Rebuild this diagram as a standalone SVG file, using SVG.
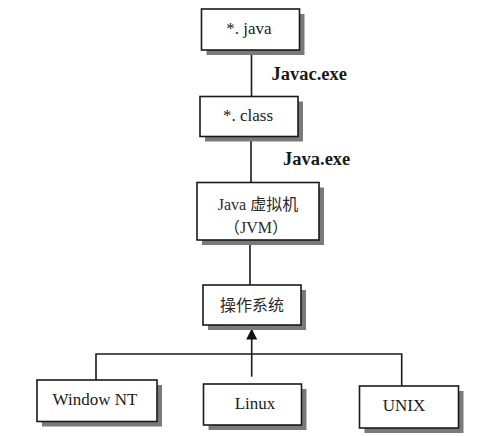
<svg xmlns="http://www.w3.org/2000/svg" width="494" height="436" viewBox="0 0 494 436">
<defs>
<style>
.box{fill:#fff;stroke:#1a1a1a;stroke-width:1.6}
.sh{fill:#7a7a7a;stroke:none}
.t{font-family:"Liberation Serif",serif;font-size:17px;fill:#1a1a1a;text-anchor:middle}
.cj{font-family:"Liberation Serif","Noto Sans CJK SC",serif;font-size:16px;fill:#2a2a2a;text-anchor:middle}
.lbl{font-family:"Liberation Serif",serif;font-size:18.5px;font-weight:bold;fill:#1a1a1a}
.ln{stroke:#1a1a1a;stroke-width:1.6;fill:none}
</style>
<marker id="ah" viewBox="0 0 10 10" refX="10" refY="5" markerWidth="11" markerHeight="12" markerUnits="userSpaceOnUse" orient="auto">
<path d="M0,0 L10,5 L0,10 Z" fill="#111"/>
</marker>
</defs>
<rect width="494" height="436" fill="#fff"/>
<g id="connectors">
<line class="ln" x1="251.5" y1="50" x2="251.5" y2="96.5"/>
<line class="ln" x1="251" y1="136.5" x2="251" y2="182.5"/>
<line class="ln" x1="250" y1="240" x2="250" y2="285"/>
<line class="ln" x1="251.7" y1="376.7" x2="251.7" y2="328.5" marker-end="url(#ah)"/>
<polyline class="ln" points="96,380 96,354 401.7,354 401.7,386"/>
<text class="lbl" x="271.5" y="79.5">Javac.exe</text>
<text class="lbl" x="283" y="165">Java.exe</text>
</g>
<g id="node-java">
<rect class="sh" x="206.5" y="14" width="98" height="41"/>
<rect class="box" x="201.5" y="9" width="98" height="41"/>
<text class="t" x="249" y="34">*. java</text>
</g>
<g id="node-class">
<rect class="sh" x="205" y="101.5" width="98" height="40"/>
<rect class="box" x="200" y="96.5" width="98" height="40"/>
<text class="t" x="248" y="121">*. class</text>
</g>
<g id="node-jvm">
<rect class="sh" x="202" y="187.5" width="122" height="57.5"/>
<rect class="box" x="197" y="182.5" width="122" height="57.5"/>
<text class="cj" x="258" y="210">Java 虚拟机</text>
<text class="cj" x="256" y="233">（JVM）</text>
</g>
<g id="node-os">
<rect class="sh" x="208" y="290" width="98" height="40"/>
<rect class="box" x="203" y="285" width="98" height="40"/>
<text class="cj" x="252" y="311">操作系统</text>
</g>
<g id="node-winnt">
<rect class="sh" x="42" y="385" width="120" height="41.5"/>
<rect class="box" x="37" y="380" width="120" height="41.5"/>
<text class="t" x="95" y="405">Window NT</text>
</g>
<g id="node-linux">
<rect class="sh" x="208.5" y="389" width="98" height="41"/>
<rect class="box" x="203.5" y="384" width="98" height="41"/>
<text class="t" x="255" y="409">Linux</text>
</g>
<g id="node-unix">
<rect class="sh" x="364.5" y="391" width="99" height="42"/>
<rect class="box" x="359.5" y="386" width="99" height="42"/>
<text class="t" x="404" y="411">UNIX</text>
</g>
</svg>
